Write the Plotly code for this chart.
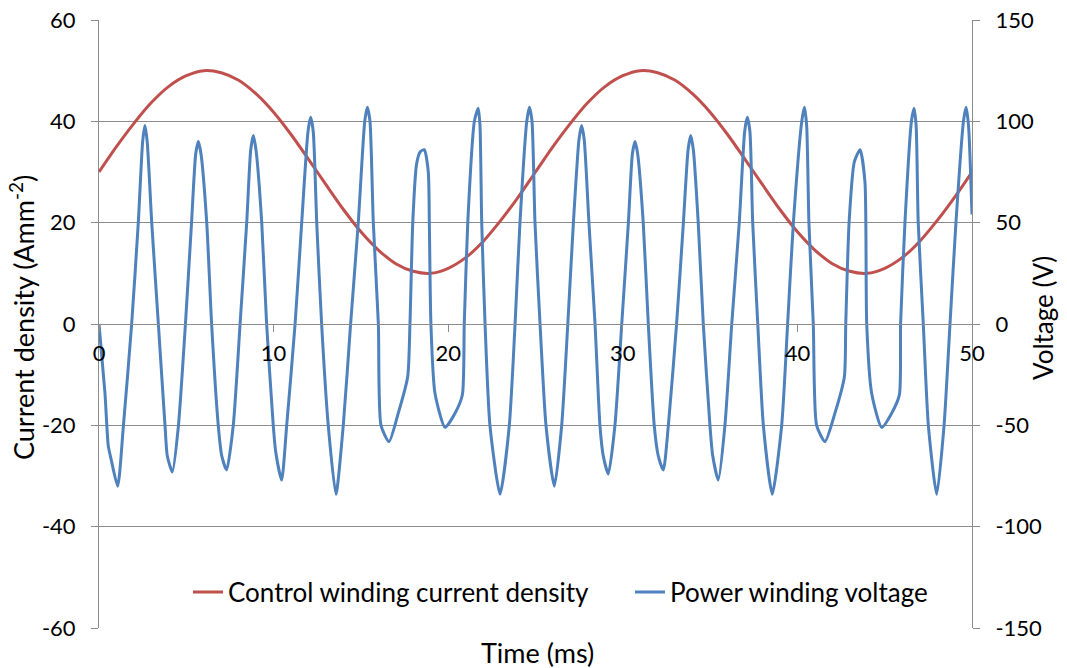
import plotly.graph_objects as go

# Control winding current density (A/mm^2), sampled every 1 ms
t_control = list(range(0, 51))
j_control = [30.0, 35.0, 39.6, 43.7, 46.9, 49.0, 50.0, 49.6, 48.1, 45.4,
             41.8, 37.4, 32.5, 27.5, 22.6, 18.2, 14.6, 11.9, 10.4, 10.0,
             11.0, 13.1, 16.3, 20.4, 25.0, 30.0, 35.0, 39.6, 43.7, 46.9,
             49.0, 50.0, 49.6, 48.1, 45.4, 41.8, 37.4, 32.5, 27.5, 22.6,
             18.2, 14.6, 11.9, 10.4, 10.0, 11.0, 13.1, 16.3, 20.4, 25.0,
             30.0]

# Power winding voltage (V)
t_power = [0.00, 0.34, 0.53, 0.70, 1.07, 1.39, 1.87, 2.25, 2.50, 2.63,
           2.76, 3.02, 3.40, 3.78, 3.91, 4.20, 4.54, 4.95, 5.30, 5.54,
           5.69, 5.84, 6.17, 6.45, 6.83, 7.03, 7.31, 7.69, 8.08, 8.46,
           8.69, 8.84, 8.99, 9.32, 9.60, 9.98, 10.12, 10.46, 10.75, 11.23,
           11.61, 11.97, 12.12, 12.27, 12.47, 12.75, 13.13, 13.57, 13.99, 14.41,
           14.85, 15.22, 15.37, 15.52, 15.71, 16.00, 16.15, 16.61, 17.14, 17.68,
           17.81, 17.97, 18.19, 18.40, 18.63, 18.86, 18.92, 19.01, 19.24, 19.82,
           20.39, 20.81, 20.92, 21.12, 21.50, 21.72, 21.82, 21.92, 22.11, 22.39,
           22.97, 23.50, 23.83, 24.11, 24.50, 24.65, 24.80, 24.97, 25.26, 25.60,
           26.08, 26.50, 26.85, 27.17, 27.49, 27.64, 27.79, 28.06, 28.41, 28.69,
           28.88, 29.17, 29.55, 29.94, 30.32, 30.55, 30.70, 30.85, 31.17, 31.46,
           31.80, 32.03, 32.32, 32.61, 33.08, 33.47, 33.74, 33.89, 34.04, 34.32,
           34.61, 34.99, 35.15, 35.47, 35.85, 36.24, 36.67, 36.98, 37.13, 37.28,
           37.44, 37.73, 38.05, 38.56, 39.10, 39.44, 39.77, 40.25, 40.40, 40.53,
           40.66, 40.91, 41.10, 41.58, 42.15, 42.69, 42.77, 42.96, 43.26, 43.59,
           43.87, 43.97, 44.25, 44.83, 45.40, 45.84, 45.91, 46.16, 46.53, 46.68,
           46.80, 46.92, 47.21, 47.50, 47.98, 48.40, 48.74, 49.08, 49.51, 49.66,
           49.80, 50.00]
v_power = [0, -34, -60, -67, -80, -51, 0, 50, 90, 98,
           90, 50, 0, -50, -65, -73, -51, 0, 50, 84,
           90, 84, 50, 0, -50, -65, -72, -50, 0, 50,
           86, 93, 86, 50, 0, -50, -63, -77, -50, 0,
           50, 95, 102, 95, 50, 0, -50, -84, -50, 0,
           50, 100, 107, 100, 50, 0, -50, -58, -44, -26,
           0, 50, 79, 85, 86, 75, 50, 0, -34, -51,
           -44, -35, 0, 50, 100, 106.5, 98, 50, 0, -50,
           -84, -50, 0, 50, 100, 107, 100, 50, 0, -50,
           -80, -50, 0, 50, 91, 98, 91, 50, 0, -50,
           -65, -74, -50, 0, 50, 84, 90, 84, 50, 0,
           -50, -65, -72, -50, 0, 50, 86, 93, 86, 50,
           0, -50, -65, -77, -50, 0, 50, 95, 102, 95,
           50, 0, -50, -84, -50, 0, 50, 100, 107, 98,
           50, 0, -50, -58, -44, -26, 0, 50, 80, 86,
           70, 0, -34, -51, -44, -35, 0, 50, 100, 106.5,
           98, 50, 0, -50, -84, -50, 0, 50, 100, 107,
           98, 54]

x_ticks = [0, 10, 20, 30, 40, 50]
left_ticks = [-60, -40, -20, 0, 20, 40, 60]
right_ticks = [-150, -100, -50, 0, 50, 100, 150]

FONT = "Lato"
TXT = "#000000"
GRID = "#8c8c8c"

fig = go.Figure()
fig.add_trace(go.Scatter(
    x=t_control, y=j_control, mode="lines", name="Control winding current density",
    line=dict(color="#C0504D", width=3, shape="spline", smoothing=0.8),
    yaxis="y", legend="legend"))
fig.add_trace(go.Scatter(
    x=t_power, y=v_power, mode="lines", name="Power winding voltage",
    line=dict(color="#4F81BD", width=3, shape="spline", smoothing=0.6),
    yaxis="y2", legend="legend2"))

L, R, T, B = 99, 95, 20, 40
W, H = 1067, 668
pw, ph = W - L - R, H - T - B


def px_x(px):
    return (px - L) / pw


def px_y(py):
    return (H - B - py) / ph


def labels(vals):
    # plain hyphen for negative numbers
    return [str(v) for v in vals]


fig.update_layout(
    width=W, height=H,
    margin=dict(l=L, r=R, t=T, b=B, autoexpand=False),
    paper_bgcolor="white", plot_bgcolor="white",
    font=dict(family=FONT, size=22, color=TXT),
    xaxis=dict(range=[0, 50], tickvals=x_ticks, ticktext=labels(x_ticks),
               showgrid=False, zeroline=False, automargin=False,
               anchor="free", position=0.5, showline=True, linecolor=GRID, linewidth=1,
               ticks="outside", ticklen=7, tickcolor=GRID, ticklabelstandoff=3,
               tickfont=dict(size=22, color=TXT)),
    yaxis=dict(range=[-60, 60], tickvals=left_ticks, ticktext=labels(left_ticks),
               showgrid=True, gridcolor=GRID, automargin=False,
               gridwidth=1, zeroline=False, showline=True, linecolor=GRID,
               ticks="outside", ticklen=7, tickcolor=GRID, ticklabelstandoff=11,
               tickfont=dict(size=22, color=TXT)),
    yaxis2=dict(range=[-150, 150], tickvals=right_ticks, ticktext=labels(right_ticks),
                overlaying="y", side="right", automargin=False,
                showgrid=False, zeroline=False, showline=True, linecolor=GRID,
                ticks="outside", ticklen=7, tickcolor=GRID, ticklabelstandoff=11,
                tickfont=dict(size=22, color=TXT)),
    legend=dict(orientation="h", x=px_x(188), y=px_y(592), xanchor="left", yanchor="middle",
                bgcolor="rgba(0,0,0,0)", font=dict(size=26, color=TXT)),
    legend2=dict(orientation="h", x=px_x(630), y=px_y(592), xanchor="left", yanchor="middle",
                 bgcolor="rgba(0,0,0,0)", font=dict(size=26, color=TXT)),
    showlegend=True,
)

fig.add_annotation(text="Current density (Amm<sup>-2</sup>)", textangle=-90,
                   xref="paper", yref="paper", x=px_x(22), y=px_y(318),
                   xanchor="center", yanchor="middle",
                   showarrow=False, font=dict(size=27, color=TXT))
fig.add_annotation(text="Voltage (V)", textangle=-90,
                   xref="paper", yref="paper", x=px_x(1043), y=px_y(318),
                   xanchor="center", yanchor="middle",
                   showarrow=False, font=dict(size=26, color=TXT))
fig.add_annotation(text="Time (ms)", xref="paper", yref="paper",
                   x=px_x(537), y=px_y(652), xanchor="center", yanchor="middle",
                   showarrow=False, font=dict(size=27, color=TXT))

fig.write_html("out.html")
